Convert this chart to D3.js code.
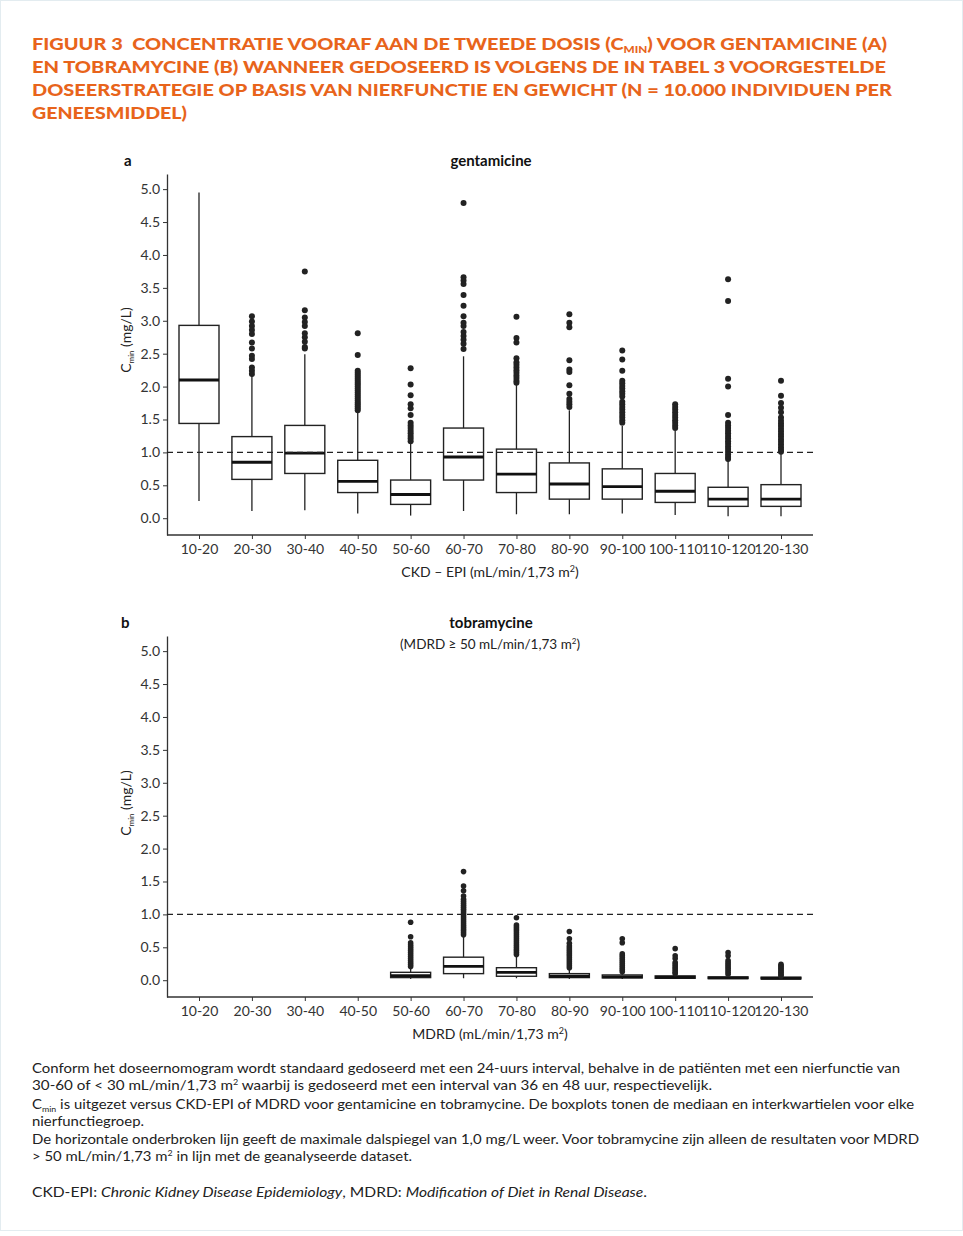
<!DOCTYPE html>
<html><head><meta charset="utf-8">
<script src="https://cdn.jsdelivr.net/npm/d3@7"></script>
<style>
html,body{margin:0;padding:0;background:#fff;}
svg{display:block;}
</style></head>
<body>
<svg id="c" width="963" height="1236"></svg>
<script>
const categories = ["10-20","20-30","30-40","40-50","50-60","60-70","70-80","80-90","90-100","100-110","110-120","120-130"];
const yTicks = [0,0.5,1,1.5,2,2.5,3,3.5,4,4.5,5];
const threshold = 1.0;

// gentamicine (CKD-EPI)
const gLow  = [0.26,0.11,0.12,0.07,0.04,0.11,0.06,0.06,0.07,0.05,0.03,0.03];
const gQ1   = [1.44,0.59,0.68,0.39,0.21,0.58,0.39,0.29,0.29,0.24,0.18,0.18];
const gMed  = [2.10,0.85,0.99,0.56,0.36,0.93,0.67,0.52,0.48,0.41,0.29,0.29];
const gQ3   = [2.93,1.24,1.41,0.88,0.58,1.37,1.05,0.84,0.75,0.68,0.47,0.51];
const gHigh = [4.95,2.16,2.49,1.61,1.15,2.46,2.04,1.64,1.40,1.33,0.87,0.99];
const gOut = [
  [],
  [3.07,2.99,2.92,2.86,2.80,2.67,2.58,2.47,2.42,2.29,2.24,2.19],
  [3.75,3.16,3.05,2.98,2.92,2.81,2.75,2.68,2.60,2.58],
  [2.81,2.48,2.24,2.21,2.18,2.15,2.12,2.09,2.06,2.03,2.00,1.97,1.94,1.91,1.88,1.85,1.82,1.79,1.76,1.73,1.70,1.67,1.64],
  [2.28,2.03,1.87,1.73,1.67,1.57,1.45,1.41,1.37,1.33,1.29,1.25,1.21,1.17],
  [4.79,3.66,3.61,3.56,3.39,3.23,3.07,2.97,2.92,2.83,2.77,2.71,2.65,2.57],
  [3.06,2.74,2.67,2.43,2.37,2.33,2.29,2.25,2.21,2.17,2.13,2.09,2.06],
  [3.10,2.97,2.90,2.40,2.26,2.22,2.02,1.89,1.81,1.77,1.73,1.69],
  [2.55,2.41,2.24,2.09,2.05,2.01,1.97,1.93,1.89,1.85,1.77,1.73,1.69,1.65,1.61,1.57,1.53,1.49,1.45],
  [1.73,1.69,1.65,1.61,1.57,1.53,1.49,1.45,1.41,1.37],
  [3.63,3.30,2.12,2.00,1.57,1.45,1.41,1.37,1.33,1.29,1.25,1.21,1.17,1.13,1.09,1.05,1.01,0.97,0.93,0.90],
  [2.09,1.86,1.75,1.68,1.61,1.53,1.48,1.44,1.40,1.36,1.32,1.28,1.24,1.20,1.16,1.12,1.08,1.04,1.01]
];

// tobramycine (MDRD)
const tLow  = [null,null,null,null,0.02,0.03,0.03,0.02,0.02,0.02,0.02,0.02];
const tQ1   = [null,null,null,null,0.04,0.10,0.06,0.04,0.035,0.03,0.025,0.02];
const tMed  = [null,null,null,null,0.07,0.21,0.12,0.06,0.05,0.045,0.035,0.03];
const tQ3   = [null,null,null,null,0.12,0.35,0.19,0.10,0.08,0.065,0.05,0.045];
const tHigh = [null,null,null,null,0.19,0.67,0.36,0.17,0.12,0.09,0.076,0.06];
const tOut = [
  [],[],[],[],
  [0.88,0.66,0.57,0.54,0.51,0.48,0.45,0.42,0.39,0.36,0.33,0.30,0.27,0.24,0.21],
  [1.65,1.43,1.36,1.28,1.23,1.20,1.17,1.14,1.11,1.08,1.05,1.02,0.99,0.96,0.93,0.90,0.87,0.84,0.81,0.78,0.75,0.72,0.69],
  [0.95,0.84,0.81,0.78,0.75,0.72,0.69,0.66,0.63,0.60,0.57,0.54,0.51,0.48,0.45,0.42,0.39],
  [0.74,0.63,0.56,0.52,0.49,0.46,0.43,0.40,0.37,0.34,0.31,0.28,0.25,0.22,0.19],
  [0.63,0.57,0.40,0.37,0.34,0.31,0.28,0.25,0.22,0.19,0.16,0.13],
  [0.48,0.37,0.33,0.27,0.24,0.21,0.18,0.15,0.12,0.10],
  [0.42,0.37,0.30,0.27,0.24,0.21,0.18,0.15,0.12,0.09],
  [0.24,0.22,0.20,0.18,0.16,0.14,0.12,0.10,0.08,0.065]
];

const svg = d3.select("#c");
const ORANGE = "#e8641b";
const INK = "#222";
const FONT = "Lato, 'Open Sans', sans-serif";

// faint page border
svg.append("rect").attr("x",0.5).attr("y",0.5).attr("width",962).attr("height",1230)
  .attr("fill","none").attr("stroke","#e3ecf0").attr("stroke-width",1);

// Title
const titleLines = [
  {parts:[["FIGUUR 3\u00a0\u00a0CONCENTRATIE VOORAF AAN DE TWEEDE DOSIS (C",0],["MIN",1],[") VOOR GENTAMICINE (A)",0]], y:50, w:855},
  {parts:[["EN TOBRAMYCINE (B) WANNEER GEDOSEERD IS VOLGENS DE IN TABEL 3 VOORGESTELDE",0]], y:73, w:854},
  {parts:[["DOSEERSTRATEGIE OP BASIS VAN NIERFUNCTIE EN GEWICHT (N = 10.000 INDIVIDUEN PER",0]], y:96, w:860},
  {parts:[["GENEESMIDDEL)",0]], y:119, w:155}
];
titleLines.forEach(l=>{
  const t = svg.append("text").attr("x",32).attr("y",l.y)
    .attr("font-family",FONT).attr("font-weight",900).attr("font-size",17)
    .attr("fill",ORANGE).attr("textLength",l.w).attr("lengthAdjust","spacingAndGlyphs");
  l.parts.forEach(p=>{
    const ts = t.append("tspan").text(p[0]);
    if(p[1]) ts.attr("font-size",10).attr("dy",3);
    else if (p[0].startsWith(")")) ts.attr("dy",-3);
  });
});

function panel(cfg){
  const g = svg.append("g");
  const x = d3.scalePoint().domain(categories).range([199,781]);
  const y = d3.scaleLinear().domain([-0.255,5.23]).range([cfg.bottom, cfg.top]);
  const bw = 40;

  // y axis
  const ya = g.append("g").attr("transform","translate(167,0)")
    .call(d3.axisLeft(y).tickValues(yTicks).tickFormat(d3.format(".1f")).tickSize(4).tickSizeOuter(0).tickPadding(3));
  ya.select(".domain").attr("stroke","#333").attr("stroke-width",1.3);
  ya.selectAll(".tick line").attr("stroke","#333");
  ya.selectAll(".tick text").attr("font-family",FONT).attr("font-size",14).attr("fill","#333");

  // x axis
  const xa = g.append("g").attr("transform",`translate(0,${cfg.bottom})`)
    .call(d3.axisBottom(x).tickSize(4).tickSizeOuter(0).tickPadding(5));
  xa.select(".domain").remove();
  xa.selectAll(".tick line").attr("stroke","#333");
  xa.selectAll(".tick text").attr("font-family",FONT).attr("font-size",14).attr("fill","#333");
  g.append("line").attr("x1",167).attr("x2",813).attr("y1",cfg.bottom).attr("y2",cfg.bottom)
    .attr("stroke","#333").attr("stroke-width",1.3);

  // boxes
  categories.forEach((c,i)=>{
    if(cfg.q1[i]==null) return;
    const cx = x(c);
    g.append("line").attr("x1",cx).attr("x2",cx).attr("y1",y(cfg.low[i])).attr("y2",y(cfg.high[i]))
      .attr("stroke",INK).attr("stroke-width",1.3);
    g.append("rect").attr("x",cx-bw/2).attr("width",bw)
      .attr("y",y(cfg.q3[i])).attr("height",Math.max(0.5,y(cfg.q1[i])-y(cfg.q3[i])))
      .attr("fill","#fff").attr("stroke",INK).attr("stroke-width",1.4);
    g.append("line").attr("x1",cx-bw/2).attr("x2",cx+bw/2).attr("y1",y(cfg.med[i])).attr("y2",y(cfg.med[i]))
      .attr("stroke","#111").attr("stroke-width",2.8);
    g.selectAll(null).data(cfg.out[i]).enter().append("circle")
      .attr("cx",cx).attr("cy",d=>y(d)).attr("r",cfg.r).attr("fill",INK);
  });

  // threshold
  g.append("line").attr("x1",167).attr("x2",813).attr("y1",y(threshold)).attr("y2",y(threshold))
    .attr("stroke",INK).attr("stroke-width",1.3).attr("stroke-dasharray","6,4");

  // labels
  g.append("text").attr("x",cfg.letterX).attr("y",cfg.top-8).text(cfg.letter)
    .attr("font-family",FONT).attr("font-weight",700).attr("font-size",15).attr("fill","#111");
  g.append("text").attr("x",491).attr("y",cfg.top-8).attr("text-anchor","middle").text(cfg.title)
    .attr("font-family",FONT).attr("font-weight",700).attr("font-size",15).attr("fill","#111");
  if(cfg.subtitle){
    const st = g.append("text").attr("x",490).attr("y",cfg.top+13).attr("text-anchor","middle")
      .attr("font-family",FONT).attr("font-size",13.5).attr("fill","#222");
    st.append("tspan").text(cfg.subtitle);
    st.append("tspan").text("2").attr("font-size",8).attr("dy",-5);
    st.append("tspan").text(")").attr("dy",5);
  }
  const xl = g.append("text").attr("x",490).attr("y",cfg.bottom+42).attr("text-anchor","middle")
    .attr("font-family",FONT).attr("font-size",14).attr("fill","#222");
  xl.append("tspan").text(cfg.xlabel);
  xl.append("tspan").text("2").attr("font-size",9).attr("dy",-5);
  xl.append("tspan").text(")").attr("dy",5);

  const yl = g.append("text").attr("transform",`translate(131,${cfg.ylabelY}) rotate(-90)`)
    .attr("text-anchor","middle").attr("font-family",FONT).attr("font-size",14).attr("fill","#222");
  yl.append("tspan").text("C");
  yl.append("tspan").text("min").attr("font-size",8).attr("dy",3);
  yl.append("tspan").text(" (mg/L)").attr("dy",-3);
}

panel({top:174,bottom:535,low:gLow,q1:gQ1,med:gMed,q3:gQ3,high:gHigh,out:gOut,r:3,
  letter:"a",letterX:124,title:"gentamicine",xlabel:"CKD – EPI (mL/min/1,73 m",ylabelY:340});
panel({top:636,bottom:997,low:tLow,q1:tQ1,med:tMed,q3:tQ3,high:tHigh,out:tOut,r:2.8,
  letter:"b",letterX:121,title:"tobramycine",subtitle:"(MDRD ≥ 50 mL/min/1,73 m",
  xlabel:"MDRD (mL/min/1,73 m",ylabelY:803});

// footnotes
const notes = [
  {y:1073,w:868,parts:[["Conform het doseernomogram wordt standaard gedoseerd met een 24-uurs interval, behalve in de patiënten met een nierfunctie van",""]]},
  {y:1090,w:680,parts:[["30-60 of < 30 mL/min/1,73 m",""],["2","sup"],[" waarbij is gedoseerd met een interval van 36 en 48 uur, respectievelijk.",""]]},
  {y:1109,w:882,parts:[["C",""],["min","sub"],[" is uitgezet versus CKD-EPI of MDRD voor gentamicine en tobramycine. De boxplots tonen de mediaan en interkwartielen voor elke",""]]},
  {y:1126,w:112,parts:[["nierfunctiegroep.",""]]},
  {y:1144,w:887,parts:[["De horizontale onderbroken lijn geeft de maximale dalspiegel van 1,0 mg/L weer. Voor tobramycine zijn alleen de resultaten voor MDRD",""]]},
  {y:1161,w:380,parts:[["> 50 mL/min/1,73 m",""],["2","sup"],[" in lijn met de geanalyseerde dataset.",""]]},
  {y:1197,w:615,parts:[["CKD-EPI: ",""],["Chronic Kidney Disease Epidemiology","i"],[", MDRD: ",""],["Modification of Diet in Renal Disease","i"],[".",""]]}
];
notes.forEach(n=>{
  const t = svg.append("text").attr("x",32).attr("y",n.y).attr("font-family",FONT)
    .attr("font-size",13.5).attr("fill","#222").attr("textLength",n.w).attr("lengthAdjust","spacingAndGlyphs");
  let shift = 0;
  n.parts.forEach(p=>{
    const ts = t.append("tspan").text(p[0]);
    if(p[1]==="sup"){ ts.attr("font-size",8).attr("dy",-5); shift=5; }
    else if(p[1]==="sub"){ ts.attr("font-size",8).attr("dy",3); shift=-3; }
    else { if(shift){ ts.attr("dy",shift); shift=0; } if(p[1]==="i") ts.attr("font-style","italic"); }
  });
});
</script>
</body></html>
